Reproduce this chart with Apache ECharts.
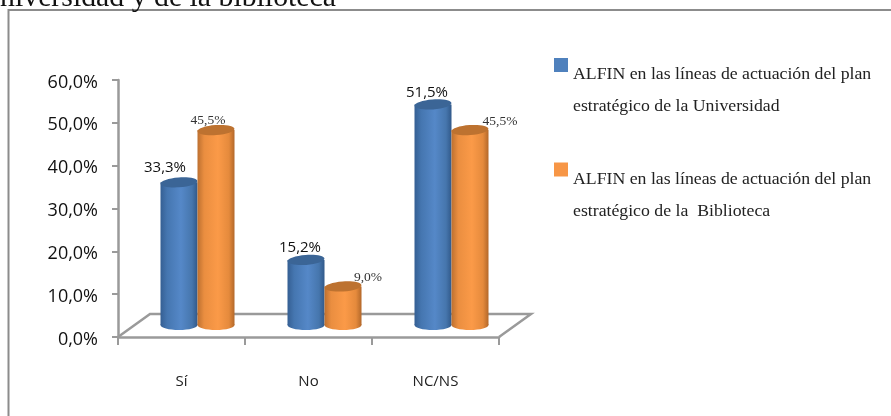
<!DOCTYPE html>
<html>
<head>
<meta charset="utf-8">
<style>html,body{margin:0;padding:0;background:#fff}#c{width:891px;height:416px}</style>
<script src="https://cdn.jsdelivr.net/npm/echarts@6/dist/echarts.min.js"></script>
</head>
<body>
<div id="c"></div>
<script>
var categories = ['Sí', 'No', 'NC/NS'];
var universidad = [33.3, 15.2, 51.5];
var biblioteca = [45.5, 9.0, 45.5];
var universidadName = 'ALFIN en las líneas de actuación del plan\nestratégico de la Universidad';
var bibliotecaName = 'ALFIN en las líneas de actuación del plan\nestratégico de la  Biblioteca';
var titleText = 'Universidad y de la biblioteca';
// label displacement from each bar's top centre
var universidadLabelShift = [[-14, -15], [-6, -12], [-6, -12]];
var bibliotecaLabelShift = [[-8, -10], [25, -9], [30, -9]];

var fmt = function (v) { return v.toFixed(1).replace('.', ',') + '%'; };
var chart = echarts.init(document.getElementById('c'), null, {renderer: 'canvas'});

var DEPTH_X = 32, DEPTH_Y = 23, BAR_W = 37, BAR_SHIFT_X = 16, BAR_SHIFT_Y = 12, RY = 5;

function grad(stops) {
  return new echarts.graphic.LinearGradient(0, 0, 1, 0, stops.map(function (s) { return {offset: s[0], color: s[1]}; }));
}
function cylinder(side, c, labelShift, labelStyle) {
  return function (params, api) {
    var i = api.value(0), v = api.value(1);
    var cx = api.coord([i, 0])[0] + BAR_SHIFT_X + side * BAR_W / 2;
    var base = api.coord([i, 0])[1] - BAR_SHIFT_Y;
    var top = api.coord([i, v])[1] - BAR_SHIFT_Y;
    var fill = grad(c.body);
    var s = labelShift[i];
    return {
      type: 'group',
      children: [
        {type: 'ellipse', shape: {cx: cx, cy: base, rx: BAR_W / 2, ry: RY}, style: {fill: fill}},
        {type: 'rect', shape: {x: cx - BAR_W / 2, y: top, width: BAR_W, height: base - top}, style: {fill: fill}},
        {type: 'ellipse', shape: {cx: cx, cy: top, rx: BAR_W / 2, ry: RY}, originX: cx, originY: top, rotation: 0.07, style: {fill: c.top}},
        {type: 'text', x: cx + s[0], y: top + s[1], style: Object.assign({text: fmt(v), align: 'center', verticalAlign: 'middle'}, labelStyle)}
      ]
    };
  };
}
var blue = {body: [[0, '#355f93'], [0.18, '#4576b0'], [0.55, '#5588c8'], [0.85, '#4676ad'], [1, '#31598a']], top: '#3b6596'};
var orange = {body: [[0, '#bd7030'], [0.18, '#ea8e40'], [0.55, '#fb9a48'], [0.85, '#e58a3c'], [1, '#b3682a']], top: '#bd7230'};
var sansLabel = {fontFamily: '"Open Sans"', fontSize: 15, fill: '#111'};
var serifLabel = {fontFamily: '"Liberation Serif"', fontSize: 13.5, fill: '#333'};
var legendLine = {fontFamily: '"Liberation Serif"', fontSize: 17.75, color: '#222', lineHeight: 32};

chart.setOption({
  animation: false,
  backgroundColor: '#fff',
  grid: {left: 118, right: 392, top: 80, bottom: 79},
  legend: {
    data: [universidadName, bibliotecaName],
    orient: 'vertical', left: 554, top: 28, itemGap: 17, padding: 0,
    icon: 'rect', itemWidth: 14, itemHeight: 14,
    selectedMode: false,
    formatter: function (name) {
      return '{gap| }\n' + name.split('\n').map(function (l) { return '{line|' + l + '}'; }).join('\n');
    },
    textStyle: {rich: {gap: {lineHeight: 51, fontSize: 10}, line: legendLine}}
  },
  xAxis: {
    type: 'category', data: categories,
    axisLine: {lineStyle: {color: '#9a9a9a', width: 2.5}},
    axisTick: {show: true, alignWithLabel: false, length: 8, lineStyle: {color: '#9a9a9a', width: 2}},
    axisLabel: {margin: 37, fontFamily: '"Open Sans"', fontSize: 15, color: '#222'}
  },
  yAxis: {
    type: 'value', min: 0, max: 60, interval: 10,
    splitLine: {show: false},
    axisLine: {show: true, lineStyle: {color: '#9a9a9a', width: 2.5}},
    axisTick: {show: true, length: 6, lineStyle: {color: '#9a9a9a', width: 2}},
    axisLabel: {
      margin: 20,
      formatter: function (v) { return '{v|' + fmt(v) + '}'; },
      rich: {v: {fontFamily: '"Open Sans"', fontSize: 18, color: '#111', padding: [5, 0, 0, 0]}}
    }
  },
  graphic: [
    {type: 'polyline', silent: true, shape: {points: [[891, 10], [8.5, 10], [8.5, 416]]}, style: {fill: 'none', stroke: '#8c8c8c', lineWidth: 2}},
    {type: 'text', x: 336, y: 13, silent: true, style: {text: titleText, align: 'right', verticalAlign: 'bottom', fontFamily: '"Liberation Serif"', fontSize: 29.8, fill: '#111'}}
  ],
  series: [
    {
      type: 'custom', name: 'floor', silent: true, z: 1, data: [[0, 0]],
      renderItem: function (params, api) {
        var band = api.size([1, 0])[0];
        var o = api.coord([0, 0]);
        var l = o[0] - band / 2, r = o[0] + band * 2.5, y = o[1];
        return {type: 'polyline', shape: {points: [[l, y], [l + DEPTH_X, y - DEPTH_Y], [r + DEPTH_X, y - DEPTH_Y], [r, y]]},
          style: {fill: 'none', stroke: '#9a9a9a', lineWidth: 2.5}};
      }
    },
    {
      type: 'custom', name: universidadName, z: 2,
      itemStyle: {color: '#4f81bd'},
      data: universidad.map(function (v, i) { return [i, v]; }),
      renderItem: cylinder(-1, blue, universidadLabelShift, sansLabel)
    },
    {
      type: 'custom', name: bibliotecaName, z: 3,
      itemStyle: {color: '#f79646'},
      data: biblioteca.map(function (v, i) { return [i, v]; }),
      renderItem: cylinder(1, orange, bibliotecaLabelShift, serifLabel)
    }
  ]
});
</script>
</body>
</html>
